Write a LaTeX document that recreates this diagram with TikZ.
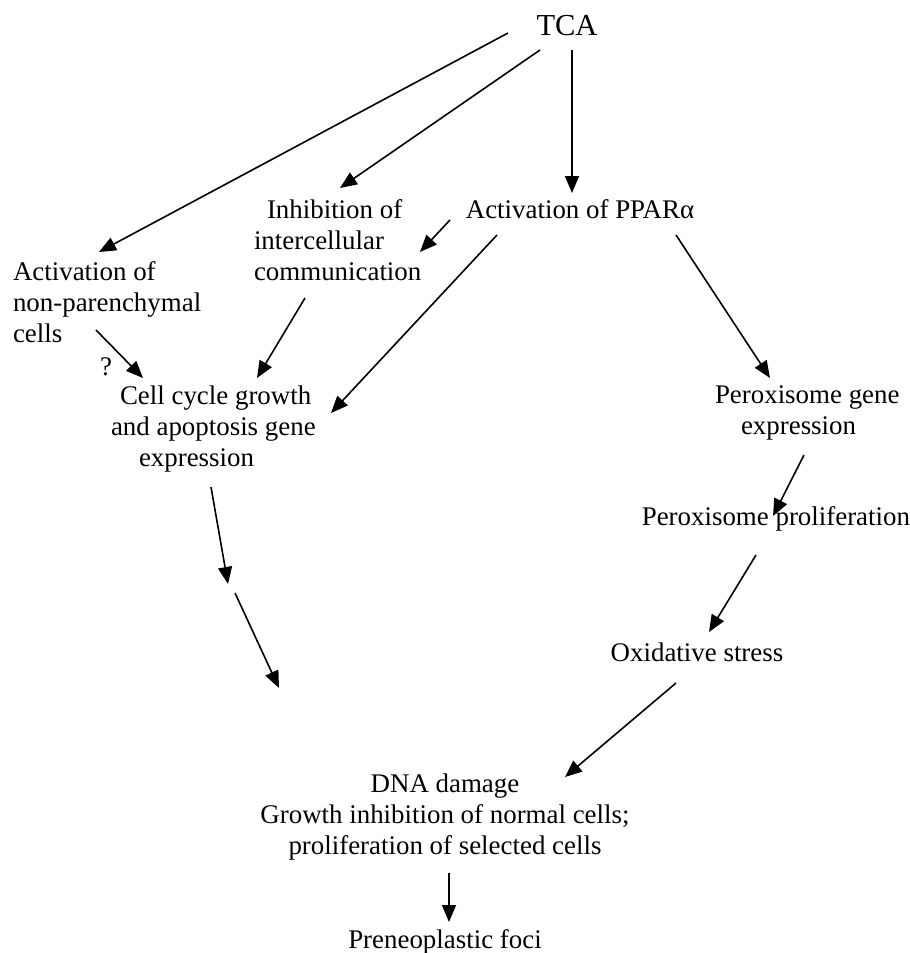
\documentclass[tikz,border=0pt]{standalone}
\usepackage{fontspec}
\setmainfont{Liberation Serif}
\usetikzlibrary{arrows.meta}
\begin{document}
\begin{tikzpicture}[x=0.5pt,y=-0.5pt,
  lbl/.style={inner sep=0pt, outer sep=0pt, font=\fontsize{13.45pt}{15.5pt}\selectfont},
  arr/.style={line width=0.8pt, -{Triangle[length=8.5pt,width=7pt]}}]
\useasboundingbox (0,0) rectangle (910,953);
% nodes
\node[lbl, font=\fontsize{15.25pt}{18pt}\selectfont, anchor=base] (tca) at (567,35) {TCA};
\node[lbl, align=left, anchor=north west] (inh) at (254,199.5) {\hspace*{6.5pt}Inhibition of\\intercellular\\communication};
\node[lbl, anchor=base] (ppar) at (580,218) {Activation of PPARα};
\node[lbl, align=left, anchor=north west] (np) at (13,261.5) {Activation of\\non-parenchymal\\cells};
\node[lbl, anchor=base] (q) at (106,375) {?};
\node[lbl, align=left, anchor=north west] (cc) at (111,385.5) {\hspace*{4.5pt}Cell cycle growth\\and apoptosis gene\\\hspace*{14pt}expression};
\node[lbl, align=left, anchor=north west] (pg) at (715,385.5) {Peroxisome gene\\\hspace*{13pt}expression};
\node[lbl, anchor=base east] (pp) at (910,525) {Peroxisome proliferation};
\node[lbl, anchor=base] (ox) at (697,661) {Oxidative stress};
\node[lbl, align=center, anchor=north] (dna) at (445,773.5) {DNA damage\\Growth inhibition of normal cells;\\proliferation of selected cells};
\node[lbl, anchor=base] (pre) at (445,948) {Preneoplastic foci};
\coordinate (c1) at (228,584);
\coordinate (c2) at (235,593);
\coordinate (c3) at (279,688);
% connectors
\draw[arr] ([shift={(-59,-2)}]tca.base) -- ([shift={(86,-9.5)}]np.north west);
\draw[arr] ([shift={(-27,15)}]tca.base) -- ([shift={(86,-11.5)}]inh.north west);
\draw[arr] ([shift={(5,15)}]tca.base) -- ([shift={(-8,-25)}]ppar.base);
\draw[arr] ([shift={(-130,2)}]ppar.base) -- ([shift={(166,52.5)}]inh.north west);
\draw[arr] ([shift={(-83,17)}]ppar.base) -- ([shift={(220,27.5)}]cc.north west);
\draw[arr] ([shift={(96,17)}]ppar.base) -- ([shift={(55,-7.5)}]pg.north west);
\draw[arr] ([shift={(51,98.5)}]inh.north west) -- ([shift={(146,-7.5)}]cc.north west);
\draw[arr] ([shift={(83,68.5)}]np.north west) -- ([shift={(32,-7.5)}]cc.north west);
\draw[arr] ([shift={(100,101.5)}]cc.north west) -- (c1);
\draw[arr] (c2) -- (c3);
\draw[arr] ([shift={(89,69.5)}]pg.north west) -- ([shift={(-137,-9)}]pp.base east);
\draw[arr] ([shift={(-154,30)}]pp.base east) -- ([shift={(12,-29)}]ox.base);
\draw[arr] ([shift={(-21,22)}]ox.base) -- ([shift={(120,3.5)}]dna.north);
\draw[arr] ([shift={(4,99.5)}]dna.north) -- ([shift={(4,-26)}]pre.base);
\end{tikzpicture}
\end{document}
